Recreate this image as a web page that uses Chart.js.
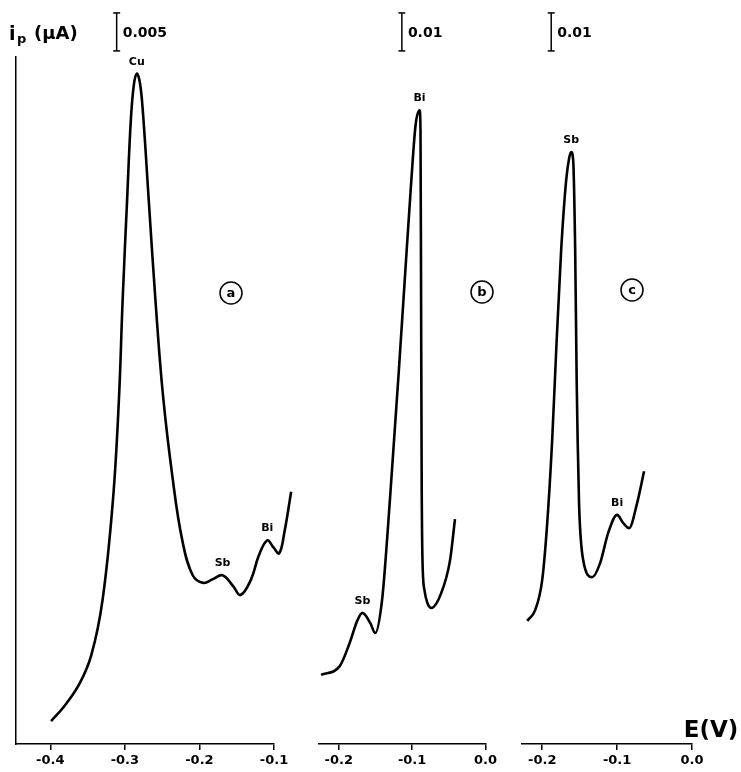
<!DOCTYPE html>
<html>
<head>
<meta charset="utf-8">
<script src="https://cdn.jsdelivr.net/npm/chart.js@4"></script>
<style>
  html, body { margin: 0; padding: 0; background: #fff; }
  #wrap { position: relative; width: 741px; height: 772px; overflow: hidden; }
  canvas { position: absolute; top: 0; }
</style>
</head>
<body>
<div id="wrap">
  <canvas id="pa" width="300" height="772" style="left:0"></canvas>
  <canvas id="pb" width="200" height="772" style="left:300px"></canvas>
  <canvas id="pc" width="236" height="772" style="left:505px"></canvas>
</div>
<script>
// (a) potential in V, peak current in µA
const potA = [-0.399, -0.381, -0.361, -0.345, -0.330, -0.316, -0.308, -0.303, -0.297, -0.292, -0.288,
  -0.284, -0.280, -0.276, -0.268, -0.259, -0.249, -0.236, -0.223, -0.209, -0.195, -0.182, -0.169,
  -0.155, -0.145, -0.131, -0.120, -0.109, -0.101, -0.093, -0.086, -0.077];
const curA = [0.0030, 0.0050, 0.0079, 0.0117, 0.0189, 0.0321, 0.0453, 0.0584, 0.0716, 0.0821, 0.0867,
  0.0882, 0.0871, 0.0834, 0.0716, 0.0584, 0.0460, 0.0350, 0.0268, 0.0222, 0.0212, 0.0217, 0.0222,
  0.0208, 0.0196, 0.0216, 0.0249, 0.0268, 0.0259, 0.0251, 0.0279, 0.0332];

// (b)
const potB = [-0.2242, -0.1987, -0.1852, -0.1745, -0.1678, -0.1570, -0.1503, -0.1410, -0.1342, -0.1275,
  -0.1181, -0.1101, -0.1020, -0.0953, -0.0899, -0.0886, -0.0878, -0.0870, -0.0859, -0.0832,
  -0.0792, -0.0738, -0.0604, -0.0483, -0.0416];
const curB = [0.0182, 0.0205, 0.0266, 0.0326, 0.0345, 0.0318, 0.0292, 0.0379, 0.0537, 0.0721,
  0.0984, 0.1221, 0.1458, 0.1629, 0.1668, 0.1616, 0.1168, 0.0695, 0.0484, 0.0405,
  0.0371, 0.0358, 0.0397, 0.0484, 0.0592];

// (c)
const potC = [-0.2200, -0.2093, -0.2000, -0.1933, -0.1867, -0.1813, -0.1747, -0.1680, -0.1640, -0.1613,
  -0.1587, -0.1560, -0.1540, -0.1527, -0.1507, -0.1453, -0.1333, -0.1227, -0.1120, -0.1000, -0.0920,
  -0.0840, -0.0733, -0.0640];
const curC = [0.0324, 0.0353, 0.0432, 0.0582, 0.0800, 0.1037, 0.1300, 0.1484, 0.1542, 0.1558,
  0.1537, 0.1300, 0.0958, 0.0800, 0.0624, 0.0484, 0.0439, 0.0476, 0.0555, 0.0603, 0.0582,
  0.0568, 0.0634, 0.0718];

// peak assignments
const peakNamesA = ["Cu", "Sb", "Bi"];
const peakPotA = [-0.284, -0.169, -0.109];
const peakNamesB = ["Sb", "Bi"];
const peakPotB = [-0.1678, -0.0899];
const peakNamesC = ["Sb", "Bi"];
const peakPotC = [-0.1613, -0.1000];

// current scale bars (µA)
const scaleBars = [0.005, 0.01, 0.01];

const ticksA = [-0.4, -0.3, -0.2, -0.1];
const ticksBC = [-0.2, -0.1, 0.0];

const FONT = '"DejaVu Sans", sans-serif';

function panel(id, p) {
  const deco = {
    id: 'deco',
    afterDatasetsDraw(chart) {
      const ctx = chart.ctx, xs = chart.scales.x, ys = chart.scales.y;
      ctx.save();
      ctx.fillStyle = '#000';
      ctx.strokeStyle = '#000';

      // element names over the peaks
      ctx.font = 'bold 11px ' + FONT;
      ctx.textAlign = 'center';
      ctx.textBaseline = 'alphabetic';
      p.peakNames.forEach((name, k) => {
        const i = p.pot.indexOf(p.peakPots[k]);
        ctx.fillText(name, xs.getPixelForValue(p.peakPots[k]), ys.getPixelForValue(p.cur[i]) - 9);
      });

      // scale bar value
      const bx = xs.getPixelForValue(p.barPot);
      const by = (ys.getPixelForValue(p.barFrom) + ys.getPixelForValue(p.barFrom + p.bar)) / 2;
      ctx.font = 'bold 14px ' + FONT;
      ctx.textAlign = 'left';
      ctx.textBaseline = 'middle';
      ctx.fillText(String(p.bar), bx + 6, by + 1);

      // circled panel letter
      ctx.lineWidth = 1.5;
      ctx.beginPath();
      ctx.arc(p.tag[0], p.tag[1], 11, 0, Math.PI * 2);
      ctx.stroke();
      ctx.font = 'bold 13px ' + FONT;
      ctx.textAlign = 'center';
      ctx.fillText(p.tag[2], p.tag[0], p.tag[1] + 1);

      if (p.yTitle) {
        ctx.textAlign = 'left';
        ctx.textBaseline = 'alphabetic';
        ctx.font = 'bold 19px ' + FONT;
        ctx.fillText('i', 9, 40);
        ctx.font = 'bold 13px ' + FONT;
        ctx.fillText('p', 17, 43);
        ctx.font = 'bold 18px ' + FONT;
        ctx.fillText('(µA)', 34, 39);
      }
      if (p.xTitle) {
        ctx.textAlign = 'center';
        ctx.textBaseline = 'alphabetic';
        ctx.font = 'bold 23px ' + FONT;
        ctx.fillText('E(V)', chart.width - 30, 737);
      }
      ctx.restore();
    }
  };

  // scale bar: vertical stroke plus two short caps
  const capHalf = 0.0047;
  const top = p.barFrom + p.bar;
  const line = (pts, w) => ({
    data: pts, borderColor: '#000', borderWidth: w, tension: 0,
    pointRadius: 0, fill: false, clip: false
  });

  const curve = {
    data: p.pot.map((e, i) => ({ x: e, y: p.cur[i] })),
    borderColor: '#000',
    borderWidth: 2.6,
    pointRadius: 0,
    fill: false,
    clip: false
  };
  // sharp peaks keep the monotone spline, the broad one a plain bezier
  if (p.smooth) curve.tension = 0.4;
  else curve.cubicInterpolationMode = 'monotone';

  return new Chart(document.getElementById(id), {
    type: 'line',
    data: {
      datasets: [
        curve,
        line([{ x: p.barPot, y: p.barFrom }, { x: p.barPot, y: top }], 1.5),
        line([{ x: p.barPot - capHalf, y: p.barFrom }, { x: p.barPot + capHalf, y: p.barFrom }], 1.5),
        line([{ x: p.barPot - capHalf, y: top }, { x: p.barPot + capHalf, y: top }], 1.5)
      ]
    },
    options: {
      responsive: false,
      animation: false,
      events: [],
      layout: { padding: { left: p.padL, right: p.padR, top: 57, bottom: 0 } },
      plugins: { legend: { display: false }, tooltip: { enabled: false } },
      scales: {
        x: {
          type: 'linear',
          bounds: 'data',
          // bounds set here so the curve may run past the axis end
          afterDataLimits: s => { s.min = p.xMin; s.max = p.xMax; },
          afterBuildTicks: s => { s.ticks = p.ticks.map(v => ({ value: v })); },
          afterFit: s => { s.height = 28; },
          border: { display: true, color: '#000', width: 1.5 },
          grid: { display: true, drawOnChartArea: false, drawTicks: true, tickLength: 6, color: '#000', lineWidth: 1.5 },
          ticks: {
            color: '#000',
            font: { family: FONT, weight: 'bold', size: 13 },
            padding: 3,
            maxRotation: 0,
            autoSkip: false,
            callback: v => v.toFixed(1)
          }
        },
        y: {
          min: 0,
          max: p.yMax,
          display: p.yAxis,
          afterFit: s => { s.width = 0; },
          ticks: { display: false },
          grid: { display: false },
          border: { display: true, color: '#000', width: 1.5 }
        }
      }
    },
    plugins: [deco]
  });
}

panel('pa', {
  pot: potA, cur: curA, peakNames: peakNamesA, peakPots: peakPotA, smooth: true,
  ticks: ticksA, xMin: -0.446, xMax: -0.1, yMax: 0.0904, padL: 16, padR: 26, yAxis: true,
  bar: scaleBars[0], barPot: -0.311, barFrom: 0.0912, tag: [231, 293, 'a'], yTitle: true
});
panel('pb', {
  pot: potB, cur: curB, peakNames: peakNamesB, peakPots: peakPotB,
  ticks: ticksBC, xMin: -0.227, xMax: 0.0, yMax: 0.1808, padL: 19, padR: 12, yAxis: false,
  bar: scaleBars[1], barPot: -0.114, barFrom: 0.1824, tag: [182, 292, 'b']
});
panel('pc', {
  pot: potC, cur: curC, peakNames: peakNamesC, peakPots: peakPotC,
  ticks: ticksBC, xMin: -0.227, xMax: 0.0, yMax: 0.1808, padL: 17, padR: 49, yAxis: false,
  bar: scaleBars[2], barPot: -0.188, barFrom: 0.1824, tag: [127, 290, 'c'], xTitle: true
});
</script>
</body>
</html>
